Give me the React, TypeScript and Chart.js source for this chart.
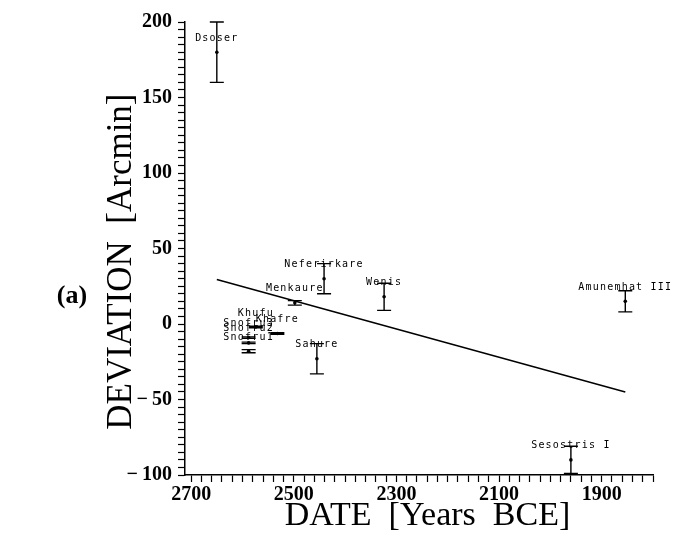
import React, { useEffect, useRef } from 'react';
import { Chart, registerables } from 'chart.js';

Chart.register(...registerables);

// ---- data ----
const pyramids = ['Dsoser', 'Snofru1', 'Snofru2', 'Snofru3', 'Khufu', 'Khafre', 'Menkaure', 'Sahure', 'Neferirkare', 'Wenis', 'Sesostris I', 'Amunemhat III'];
const years = [2650, 2588, 2588, 2588, 2574, 2532, 2498, 2455, 2441, 2324, 1960, 1854];
const deviations = [180, -18, -12.5, -9, -2, -6.3, 14, -23, 30, 18, -90, 15];
const errors = [20, 1, 0.5, 0.5, 0.5, 0.5, 1.5, 10, 10, 9, 9, 7];
const fitYears = [2650, 1854];
const fitDeviations = [29.5, -45];
const xTickLabels = [2700, 2500, 2300, 2100, 1900];
const yTickLabels = [-100, -50, 0, 50, 100, 150, 200];
const panelLabel = '(a)';

const xMin = 1800;
const xMax = 2712;
const xMinorStep = 20;
const yMin = -100;
const yMax = 200;
const yMinorStep = 5;

const overlayPlugin = {
  id: 'overlay',
  afterDatasetsDraw(chart: any) {
    const { ctx, scales } = chart;
    const x = scales.x;
    const y = scales.y;
    ctx.save();
    ctx.strokeStyle = '#000';
    ctx.lineWidth = 1.4;
    years.forEach((yr, i) => {
      const px = x.getPixelForValue(yr);
      const top = y.getPixelForValue(deviations[i] + errors[i]);
      const bot = y.getPixelForValue(deviations[i] - errors[i]);
      ctx.beginPath();
      ctx.moveTo(px, top);
      ctx.lineTo(px, bot);
      ctx.moveTo(px - 7, top);
      ctx.lineTo(px + 7, top);
      ctx.moveTo(px - 7, bot);
      ctx.lineTo(px + 7, bot);
      ctx.stroke();
    });
    ctx.fillStyle = '#000';
    ctx.font = '10px "DejaVu Sans Mono"';
    try { (ctx as any).letterSpacing = '1.2px'; } catch (e) {}
    ctx.textAlign = 'center';
    ctx.textBaseline = 'middle';
    pyramids.forEach((name, i) => {
      const px = x.getPixelForValue(years[i]);
      const py = y.getPixelForValue(deviations[i]) - 14;
      ctx.fillText(name, px, py);
    });
    try { (ctx as any).letterSpacing = '0px'; } catch (e) {}
    ctx.font = 'bold 26px "Liberation Serif"';
    ctx.fillText(panelLabel, 72, 296);
    ctx.restore();
  },
};

export default function App() {
  const ref = useRef<HTMLCanvasElement | null>(null);
  useEffect(() => {
    if (!ref.current) return;
    const chart = new Chart(ref.current, {
      type: 'scatter',
      data: {
        datasets: [
          {
            data: years.map((v, i) => ({ x: v, y: deviations[i] })),
            pointRadius: 1.8,
            pointBackgroundColor: '#000',
            pointBorderWidth: 0,
            showLine: false,
          },
          {
            data: fitYears.map((v, i) => ({ x: v, y: fitDeviations[i] })),
            showLine: true,
            borderColor: '#000',
            borderWidth: 1.5,
            pointRadius: 0,
          },
        ],
      },
      options: {
        animation: false,
        responsive: false,
        maintainAspectRatio: false,
        layout: { padding: { top: 22, right: 24, left: 0, bottom: 0 } },
        plugins: { legend: { display: false }, tooltip: { enabled: false } },
        scales: {
          x: {
            type: 'linear',
            reverse: true,
            min: xMin,
            max: xMax,
            afterBuildTicks: (s: any) => {
              const t = [];
              for (let v = xMin; v <= xMax; v += xMinorStep) t.push({ value: v });
              s.ticks = t;
            },
            afterFit: (s: any) => {
              s.height = 58;
            },
            grid: { drawOnChartArea: false, tickLength: 7, color: '#000', tickWidth: 1.2 },
            border: { color: '#000', width: 1.5 },
            ticks: {
              autoSkip: false,
              maxRotation: 0,
              padding: 1,
              color: '#000',
              font: { family: 'Liberation Serif', size: 20, weight: 'bold' },
              callback: (v: any) => (xTickLabels.includes(v) ? String(v) : ''),
            },
            title: {
              display: true,
              text: '  DATE  [Years  BCE]',
              color: '#000',
              font: { family: 'Liberation Serif', size: 34, lineHeight: 1 },
              padding: { top: 0, bottom: 0 },
            },
          },
          y: {
            type: 'linear',
            min: yMin,
            max: yMax,
            afterBuildTicks: (s: any) => {
              const t = [];
              for (let v = yMin; v <= yMax; v += yMinorStep) t.push({ value: v });
              s.ticks = t;
            },
            afterFit: (s: any) => {
              s.width = 185;
            },
            grid: { drawOnChartArea: false, tickLength: 7, color: '#000', tickWidth: 1.2 },
            border: { color: '#000', width: 1.5 },
            ticks: {
              autoSkip: false,
              padding: 6,
              color: '#000',
              font: { family: 'Liberation Serif', size: 20, weight: 'bold' },
              callback: (v: any) => (yTickLabels.includes(v) ? String(v).replace('-', '\u2212\u2009') : ''),
            },
            title: {
              display: true,
              text: 'DEVIATION  [Arcmin]   ',
              color: '#000',
              font: { family: 'Liberation Serif', size: 35, lineHeight: 1 },
              padding: { top: 104, bottom: 0 },
            },
          },
        },
      },
      plugins: [overlayPlugin],
    });
    return () => chart.destroy();
  }, []);
  return (
    <div style={{ position: 'absolute', left: 0, top: 0, width: 677, height: 533, background: '#fff' }}>
      <canvas ref={ref} width={677} height={533} />
    </div>
  );
}
